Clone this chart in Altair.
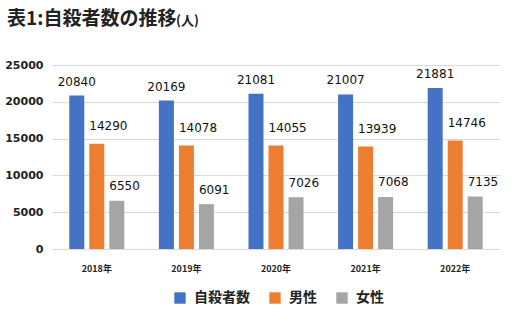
import altair as alt
import pandas as pd

years = ["2018年", "2019年", "2020年", "2021年", "2022年"]
series = ["自殺者数", "男性", "女性"]
total = [20840, 20169, 21081, 21007, 21881]
male = [14290, 14078, 14055, 13939, 14746]
female = [6550, 6091, 7026, 7068, 7135]
colors = ["#4472C4", "#ED7D31", "#A5A5A5"]
title_main = "表1:自殺者数の推移"
title_unit = "(人)"
y_ticks = [0, 5000, 10000, 15000, 20000, 25000]

rows = []
for i, y in enumerate(years):
    for s, vals in zip(series, [total, male, female]):
        rows.append({"year": y, "series": s, "value": vals[i]})
df = pd.DataFrame(rows)

W, H = 448, 184
NUM_FONT = "DejaVu Sans"
CJK = "Noto Sans CJK JP"

x_enc = alt.X("year:N", sort=years, title=None,
              scale=alt.Scale(paddingInner=0.386, paddingOuter=0.193),
              axis=alt.Axis(labelAngle=0, ticks=False, domain=False, labelPadding=15,
                            labelFont=CJK, labelFontSize=9, labelFontWeight="bold",
                            labelColor="#222222"))
xo_enc = alt.XOffset("series:N", sort=series,
                     scale=alt.Scale(paddingInner=0.25, paddingOuter=0))
y_enc = alt.Y("value:Q", title=None,
              scale=alt.Scale(domain=[0, 25000], nice=False),
              axis=alt.Axis(values=y_ticks, format="d", labelOverlap=False, ticks=False,
                            domain=False, labelPadding=9, tickCount=6,
                            labelFont=NUM_FONT, labelFontSize=11, labelFontWeight="bold",
                            labelColor="#222222", gridColor="#d9d9d9", gridWidth=1))

base = alt.Chart(df)

bars = base.mark_bar().encode(
    x=x_enc,
    xOffset=xo_enc,
    y=y_enc,
    color=alt.Color("series:N", sort=series,
                    scale=alt.Scale(domain=series, range=colors),
                    legend=alt.Legend(title=None, orient="none", direction="horizontal",
                                      legendX=121, legendY=226, symbolType="square",
                                      symbolSize=130, symbolStrokeWidth=0,
                                      labelFont=CJK, labelFontSize=14, labelFontWeight="bold",
                                      labelColor="#222222", labelOffset=7, columnPadding=18)),
)

label_cfg = {"自殺者数": ("center", 0, -7), "男性": ("left", -7.5, -10.5), "女性": ("left", -7.5, -7.5)}
layers = [bars]
for s in series:
    a, dx, dy = label_cfg[s]
    layers.append(
        base.transform_filter(alt.datum.series == s).mark_text(
            align=a, baseline="bottom", dx=dx, dy=dy, font=NUM_FONT, fontSize=12,
            fontWeight="normal", color="#111111"
        ).encode(x=x_enc, xOffset=xo_enc, y=y_enc, text="value:Q")
    )

t1 = alt.Chart(pd.DataFrame({"t": [title_main]})).mark_text(
    align="left", baseline="alphabetic", font=CJK, fontSize=19, fontWeight="bold", color="#222222"
).encode(x=alt.value(-45), y=alt.value(-40), text="t:N")
t2 = alt.Chart(pd.DataFrame({"t": [title_unit]})).mark_text(
    align="left", baseline="alphabetic", font=CJK, fontSize=13, fontWeight="bold", color="#222222"
).encode(x=alt.value(124), y=alt.value(-40), text="t:N")
layers += [t1, t2]

chart = alt.layer(*layers).properties(
    width=W, height=H,
    autosize=alt.AutoSizeParams(type="none"),
    padding={"left": 52, "top": 65, "right": 12, "bottom": 78},
).configure(background="white", view=alt.ViewConfig(stroke=None))

chart.save("out.html", embed_options={"renderer": "svg", "actions": False})
